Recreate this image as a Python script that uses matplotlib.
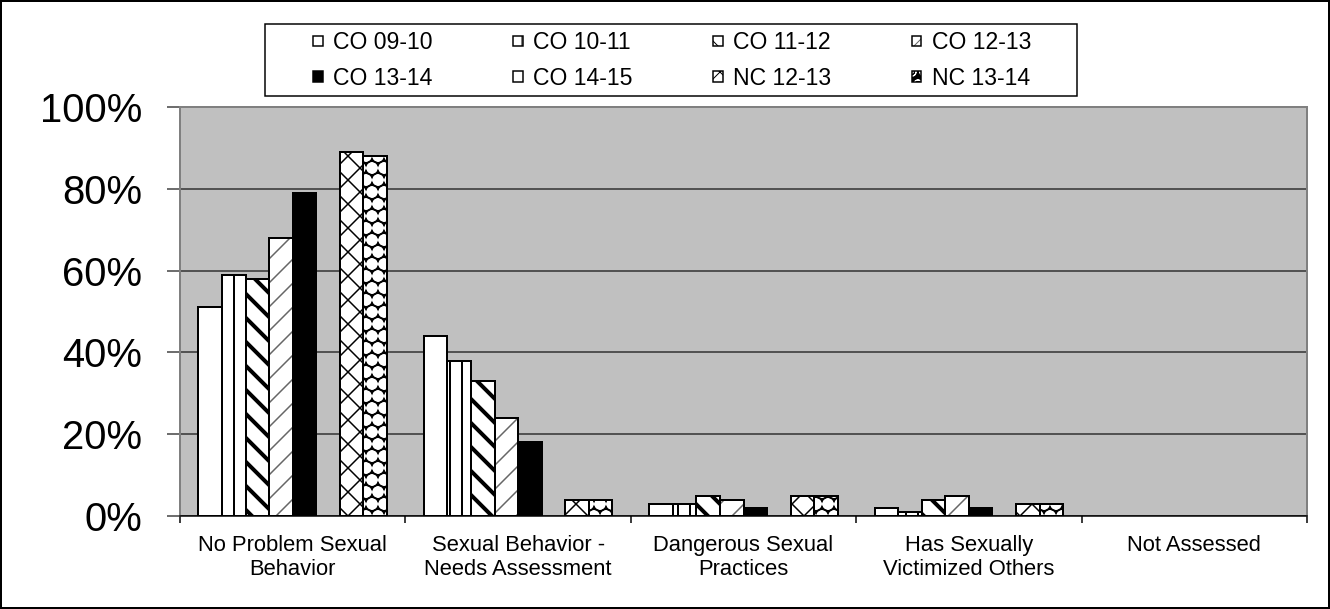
import numpy as np
import matplotlib as mpl
import matplotlib.pyplot as plt
from matplotlib.patches import Rectangle
from matplotlib.ticker import PercentFormatter

# dpi 72 so that 1 pt == 1 px and hatch spacing comes out near 12 px
DPI = 72
W, H = 1330, 609

plt.rcParams['font.family'] = ['Liberation Sans', 'DejaVu Sans']

categories = ["No Problem Sexual\nBehavior", "Sexual Behavior -\nNeeds Assessment",
              "Dangerous Sexual\nPractices", "Has Sexually\nVictimized Others", "Not Assessed"]
series_names = ["CO 09-10", "CO 10-11", "CO 11-12", "CO 12-13",
                "CO 13-14", "CO 14-15", "NC 12-13", "NC 13-14"]

# shares per category (None = no bar)
co_09_10 = [0.51, 0.44, 0.03, 0.02, None]
co_10_11 = [0.59, 0.38, 0.03, 0.01, None]
co_11_12 = [0.58, 0.33, 0.05, 0.04, None]
co_12_13 = [0.68, 0.24, 0.04, 0.05, None]
co_13_14 = [0.79, 0.18, 0.02, 0.02, None]
co_14_15 = [None, None, None, None, None]
nc_12_13 = [0.89, 0.04, 0.05, 0.03, None]
nc_13_14 = [0.88, 0.04, 0.05, 0.03, None]

all_series = [co_09_10, co_10_11, co_11_12, co_12_13, co_13_14, co_14_15, nc_12_13, nc_13_14]

# (face colour, hatch, hatch colour, hatch linewidth)
styles = [
    ("white", "", "black", 1),
    ("white", "|", "black", 2),
    ("white", "\\", "black", 4),
    ("white", "/", "#666666", 1.5),
    ("black", "", "black", 1),
    ("white", "", "black", 1),
    ("white", "x", "black", 1.5),
    ("black", "O.", "white", 3),
]

fig = plt.figure(figsize=(W / DPI, H / DPI), dpi=DPI)
ax = fig.add_axes([180 / W, 1 - 516 / H, 1127 / W, 409 / H])
ax.set_facecolor("#c0c0c0")

x = np.arange(len(categories))
n = len(all_series)
width = 0.1047

handles = []
for i, (vals, (face, hatch, hcol, hlw)) in enumerate(zip(all_series, styles)):
    h = np.array([np.nan if v is None else v for v in vals], dtype=float)
    pos = x + (i - (n - 1) / 2) * width
    with mpl.rc_context({'hatch.linewidth': hlw}):
        bars = ax.bar(pos, h, width, color=face, edgecolor=hcol, hatch=hatch, linewidth=0, zorder=2)
        fill_patch = Rectangle((0, 0), 1, 1, facecolor=face, edgecolor=hcol, hatch=hatch, linewidth=0)
    for p in list(bars) + [fill_patch]:
        if hasattr(p, "set_hatch_linewidth"):
            p.set_hatch_linewidth(hlw)
    ax.bar(pos, h, width, fill=False, edgecolor="black", linewidth=2, zorder=3)
    edge_patch = Rectangle((0, 0), 1, 1, fill=False, edgecolor="black", linewidth=1.5)
    handles.append((fill_patch, edge_patch))

ax.set_xlim(-0.5, len(categories) - 0.5)
ax.set_ylim(0, 1)
ax.set_yticks(np.arange(0, 1.01, 0.2))
ax.yaxis.set_major_formatter(PercentFormatter(1.0, decimals=0))
ax.tick_params(axis="y", labelsize=40, length=13, pad=25, width=1.5, color="#404040")
ax.yaxis.grid(True, color="#303030", linewidth=1.5)
ax.set_axisbelow(True)

ax.set_xticks(np.arange(-0.5, len(categories)), labels=[])
ax.set_xticks(x, labels=categories, minor=True)
ax.tick_params(axis="x", which="major", length=7, width=1.5)
ax.tick_params(axis="x", which="minor", length=0, labelsize=22, pad=19)

for side in ["left", "top", "right"]:
    ax.spines[side].set_color("#808080")
    ax.spines[side].set_linewidth(2)
ax.spines["bottom"].set_color("black")
ax.spines["bottom"].set_linewidth(1.5)

# legend filled row by row like the original
order = [0, 4, 1, 5, 2, 6, 3, 7]
leg = fig.legend([handles[k] for k in order], [series_names[k] for k in order], ncol=4,
                 loc="center", bbox_to_anchor=(672 / W, 1 - 60.5 / H),
                 fontsize=23, frameon=False,
                 handlelength=0.42, handleheight=0.3, handletextpad=0.45,
                 columnspacing=3.5, borderpad=0.2, labelspacing=0.55)

fig.patches.append(Rectangle((265 / W, 1 - 96 / H), 812 / W, 72 / H, transform=fig.transFigure,
                             fill=False, edgecolor="black", linewidth=1.5))
fig.patches.append(Rectangle((0.001, 0.001), 0.998, 0.997, transform=fig.transFigure,
                             fill=False, edgecolor="black", linewidth=2))

fig.savefig("out.png", dpi=DPI)
